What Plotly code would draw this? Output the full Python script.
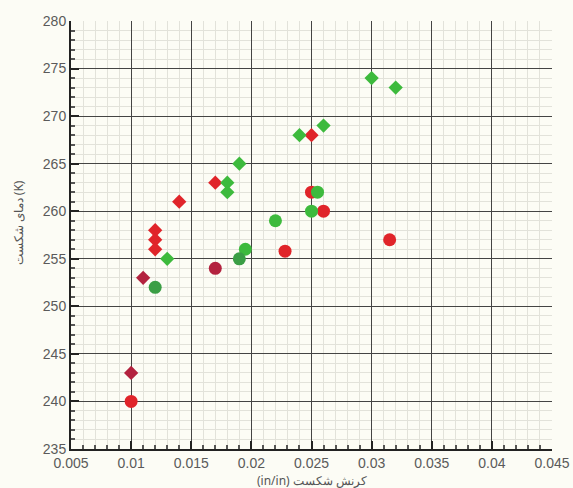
import plotly.graph_objects as go

# Green diamonds
gd_x = [0.030, 0.032, 0.026, 0.024, 0.019, 0.018, 0.018, 0.013]
gd_y = [274, 273, 269, 268, 265, 263, 262, 255]
# Green circles
gc_x = [0.022, 0.0195, 0.019, 0.0255, 0.025, 0.012]
gc_y = [259, 256, 255, 262, 260, 252]
gc_col = ["#3dba3d", "#3dba3d", "#3a9e45", "#3dba3d", "#3dba3d", "#3a9e45"]
# Red diamonds
rd_x = [0.025, 0.017, 0.014, 0.012, 0.012, 0.012, 0.011, 0.010]
rd_y = [268, 263, 261, 258, 257, 256, 253, 243]
rd_col = ["#e0242a", "#e0242a", "#e0242a", "#e0242a", "#e0242a", "#e0242a", "#b3223f", "#b3223f"]
# Red circles
rc_x = [0.010, 0.017, 0.0228, 0.025, 0.026, 0.0315]
rc_y = [240, 254, 255.8, 262, 260, 257]
rc_col = ["#e0242a", "#b3223f", "#e0242a", "#e0242a", "#e0242a", "#e0242a"]

x_title = "(in/in) کرنش شکست"
y_title = "دمای شکست (K)"

fig = go.Figure()
fig.add_trace(go.Scatter(x=rd_x, y=rd_y, mode="markers",
                         marker=dict(symbol="diamond", size=11, color=rd_col, line=dict(width=0))))
fig.add_trace(go.Scatter(x=rc_x, y=rc_y, mode="markers",
                         marker=dict(symbol="circle", size=13, color=rc_col, line=dict(width=0))))
fig.add_trace(go.Scatter(x=gc_x, y=gc_y, mode="markers",
                         marker=dict(symbol="circle", size=13, color=gc_col, line=dict(width=0))))
fig.add_trace(go.Scatter(x=gd_x, y=gd_y, mode="markers",
                         marker=dict(symbol="diamond", size=11, color="#3dba3d", line=dict(width=0))))

axis_common = dict(showline=True, linecolor="#222", linewidth=2, mirror=False, automargin=False,
                   showgrid=True, gridcolor="#444", gridwidth=1.3, zeroline=False,
                   ticks="inside", ticklen=8, tickwidth=2, tickcolor="#222",
                   tickfont=dict(family="Liberation Sans", size=14, color="#5a5a5a"))
minor = dict(showgrid=True, gridcolor="#e2e2da", gridwidth=1, ticks="inside", ticklen=4, tickcolor="#555")

fig.update_xaxes(range=[0.005, 0.045], dtick=0.005, tick0=0.005, minor=dict(dtick=0.001, **minor),
                 **axis_common)
fig.update_yaxes(range=[235, 280], dtick=5, minor=dict(dtick=1, **minor),
                 **axis_common)

fig.add_annotation(text=x_title, xref="paper", yref="paper", x=0.5, y=0, yshift=-31,
                   xanchor="center", yanchor="middle", showarrow=False,
                   font=dict(family="Noto Sans", size=12, color="#555"))
fig.add_annotation(text=y_title, xref="paper", yref="paper", x=0, y=0.527, xshift=-53,
                   xanchor="center", yanchor="middle", showarrow=False, textangle=-90,
                   font=dict(family="Noto Sans", size=12, color="#555"))

fig.update_layout(width=573, height=488, margin=dict(l=71, r=21, t=21, b=39),
                  paper_bgcolor="#fcfcf5", plot_bgcolor="#fcfcf5", showlegend=False)
fig.write_html("out.html", config={"displayModeBar": False},
               post_script="document.body.style.margin='0';document.body.style.background='#fcfcf5';")
